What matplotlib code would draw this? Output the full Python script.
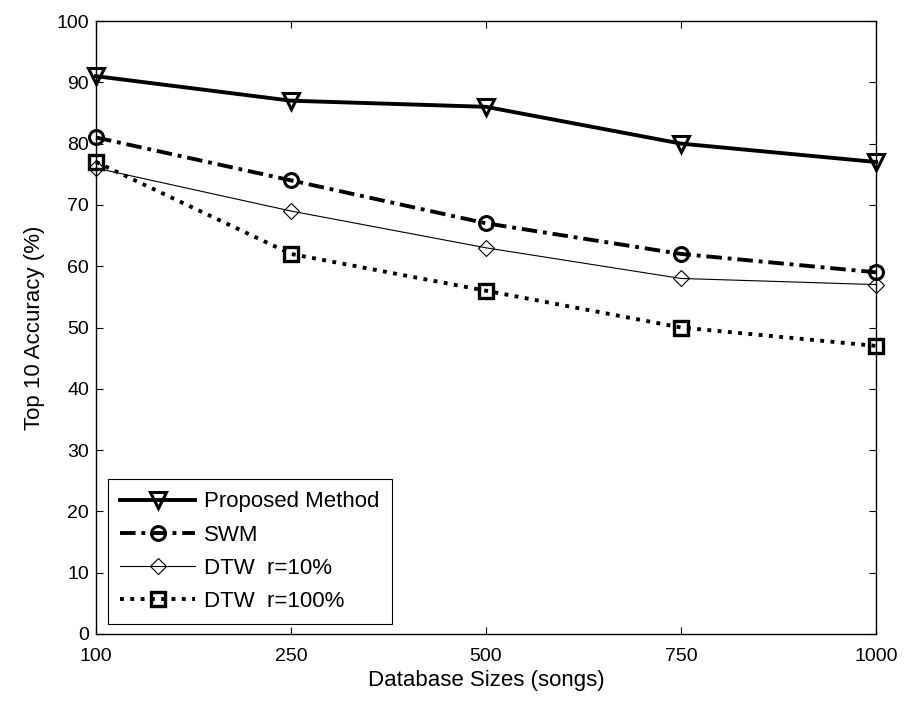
import matplotlib
matplotlib.use('Agg')
import matplotlib.pyplot as plt
import numpy as np

plt.rcParams['font.family'] = ['Liberation Sans', 'DejaVu Sans']

# database sizes (equally spaced categories on the x axis)
sizes = ['100', '250', '500', '750', '1000']
proposed = [91, 87, 86, 80, 77]
swm = [81, 74, 67, 62, 59]
dtw10 = [76, 69, 63, 58, 57]
dtw100 = [77, 62, 56, 50, 47]

x = np.arange(len(sizes))

fig = plt.figure(figsize=(9.06, 7.02), dpi=100)
ax = fig.add_axes([96/906, 1-634/702, 780/906, 613/702])

ax.plot(x, proposed, color='k', linestyle='-', linewidth=2.8, marker='v', clip_on=False,
        markersize=12, markerfacecolor='none', markeredgewidth=2.2, label='Proposed Method')
ax.plot(x, swm, color='k', linestyle=(0, (4, 1.5, 1, 1.5)), linewidth=2.8, marker='o', clip_on=False,
        markersize=10, markerfacecolor='none', markeredgewidth=2.2, label='SWM')
ax.plot(x, dtw10, color='k', linestyle='-', linewidth=0.8, marker='D', clip_on=False,
        markersize=8, markerfacecolor='none', markeredgewidth=0.8, label='DTW  r=10%')
ax.plot(x, dtw100, color='k', linestyle=':', linewidth=2.8, marker='s', clip_on=False,
        markersize=10, markerfacecolor='none', markeredgewidth=2.4, label='DTW  r=100%')

ax.set_xlim(0, len(sizes) - 1)
ax.set_ylim(0, 100)
ax.set_xticks(x)
ax.set_xticklabels(sizes)
ax.set_yticks(np.arange(0, 101, 10))
ax.tick_params(direction='in', length=5, width=0.8, top=True, right=True,
               labelsize=14, pad=5)
ax.tick_params(axis='x', pad=10)
for s in ax.spines.values():
    s.set_linewidth(1.0)

ax.set_xlabel('Database Sizes (songs)', fontsize=16, labelpad=4)
ax.set_ylabel('Top 10 Accuracy (%)', fontsize=16, labelpad=8)

leg = ax.legend(loc='lower left', bbox_to_anchor=(0.015, 0.016), borderaxespad=0,
                fontsize=16, numpoints=1, handlelength=3.4, labelspacing=0.55,
                handletextpad=0.4, borderpad=0.55, fancybox=False, framealpha=1)
leg.get_frame().set_edgecolor('k')
leg.get_frame().set_linewidth(0.8)

plt.savefig('out.png', dpi=100)
